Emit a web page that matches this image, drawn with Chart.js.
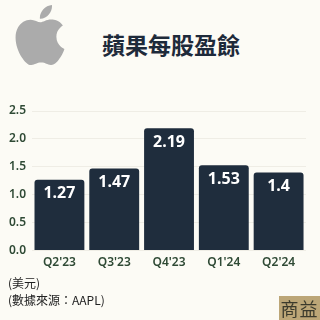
<!DOCTYPE html>
<html>
<head>
<meta charset="utf-8">
<script src="https://cdn.jsdelivr.net/npm/chart.js@4"></script>
<style>
    body { margin: 0; background: #fcfbf5; }
    #wrap { position: relative; width: 320px; height: 320px; overflow: hidden; background: #fcfbf5; font-family: "Noto Sans CJK TC", "Noto Sans", sans-serif; }
    #logo { position: absolute; left: 10px; top: 5px; width: 60px; height: 60px; }
    #title { position: absolute; left: 0; width: 342px; top: 27px; text-align: center; font-size: 23px; font-weight: 700; color: #1e2a3a; }
    .note { position: absolute; left: 8px; font-size: 12px; color: #222; }
    #brand { position: absolute; left: 279px; top: 296px; width: 41px; height: 24px; background: #bca677; color: #3b3a2c; font-size: 18px; line-height: 24px; text-align: center; letter-spacing: 1px; }
    canvas { position: absolute; left: 0; top: 0; }
</style>
</head>
<body>
<div id="wrap">
    <svg id="logo" viewBox="0 0 24 24"><path fill="#ababab" d="M12.152 6.896c-.948 0-2.415-1.078-3.960-1.040-2.040.027-3.910 1.183-4.961 3.014-2.117 3.675-.546 9.103 1.519 12.090 1.013 1.454 2.208 3.090 3.792 3.039 1.520-.065 2.090-.987 3.935-.987 1.831 0 2.350.987 3.960.948 1.637-.026 2.676-1.480 3.676-2.948 1.156-1.688 1.636-3.325 1.662-3.415-.039-.013-3.182-1.221-3.220-4.857-.026-3.040 2.480-4.494 2.597-4.559-1.429-2.090-3.623-2.324-4.390-2.376-2-.156-3.675 1.090-4.610 1.090zM15.530 3.830c.843-1.012 1.400-2.427 1.245-3.830-1.207.052-2.662.805-3.532 1.818-.780.896-1.454 2.338-1.273 3.714 1.338.104 2.715-.688 3.559-1.701"/></svg>
    <div id="title">蘋果每股盈餘</div>
    <canvas id="epsChart" width="320" height="320"></canvas>
    <div class="note" style="top: 274px;">(美元)</div>
    <div class="note" style="top: 291px;">(數據來源：AAPL)</div>
    <div id="brand">商益</div>
</div>
<script>
// Quarters and EPS values (USD)
const quarters = ["Q2'23", "Q3'23", "Q4'23", "Q1'24", "Q2'24"];
const eps = [1.27, 1.47, 2.19, 1.53, 1.4];

const barColor = '#1f2d3d';
const tickColor = '#2f4a35';

// Draw value labels inside the top of each bar
const valueLabels = {
    id: 'valueLabels',
    afterDatasetsDraw(chart) {
        const ctx = chart.ctx;
        const meta = chart.getDatasetMeta(0);
        ctx.save();
        ctx.fillStyle = '#ffffff';
        ctx.font = 'bold 16px "Noto Sans", sans-serif';
        ctx.textAlign = 'center';
        ctx.textBaseline = 'middle';
        meta.data.forEach((bar, i) => {
            ctx.fillText(String(eps[i]), bar.x, bar.y + 14);
        });
        ctx.restore();
    }
};

const canvas = document.getElementById('epsChart');
const ctx = canvas.getContext('2d');

new Chart(ctx, {
    type: 'bar',
    plugins: [valueLabels],
    data: {
        labels: quarters,
        datasets: [{
            data: eps,
            backgroundColor: barColor,
            borderRadius: { topLeft: 3, topRight: 3 },
            borderSkipped: 'bottom',
            barPercentage: 0.91,
            categoryPercentage: 1.0,
        }],
    },
    options: {
        responsive: false,
        animation: false,
        layout: { padding: { top: 111, bottom: 45, left: 3, right: 14 } },
        plugins: {
            legend: { display: false },
            tooltip: { enabled: false },
        },
        scales: {
            x: {
                grid: { display: false, drawTicks: false },
                border: { display: false },
                ticks: { color: tickColor, font: { family: '"Noto Sans", sans-serif', size: 12, weight: '600' }, padding: 5 },
            },
            y: {
                min: 0,
                max: 2.5,
                grid: { color: '#efede5', drawTicks: false },
                border: { display: false },
                ticks: {
                    stepSize: 0.5,
                    color: tickColor,
                    padding: 6,
                    font: { family: '"Noto Sans", sans-serif', size: 12, weight: '600' },
                    callback: (value) => value.toFixed(1),
                },
            },
        },
    },
});
</script>
</body>
</html>
